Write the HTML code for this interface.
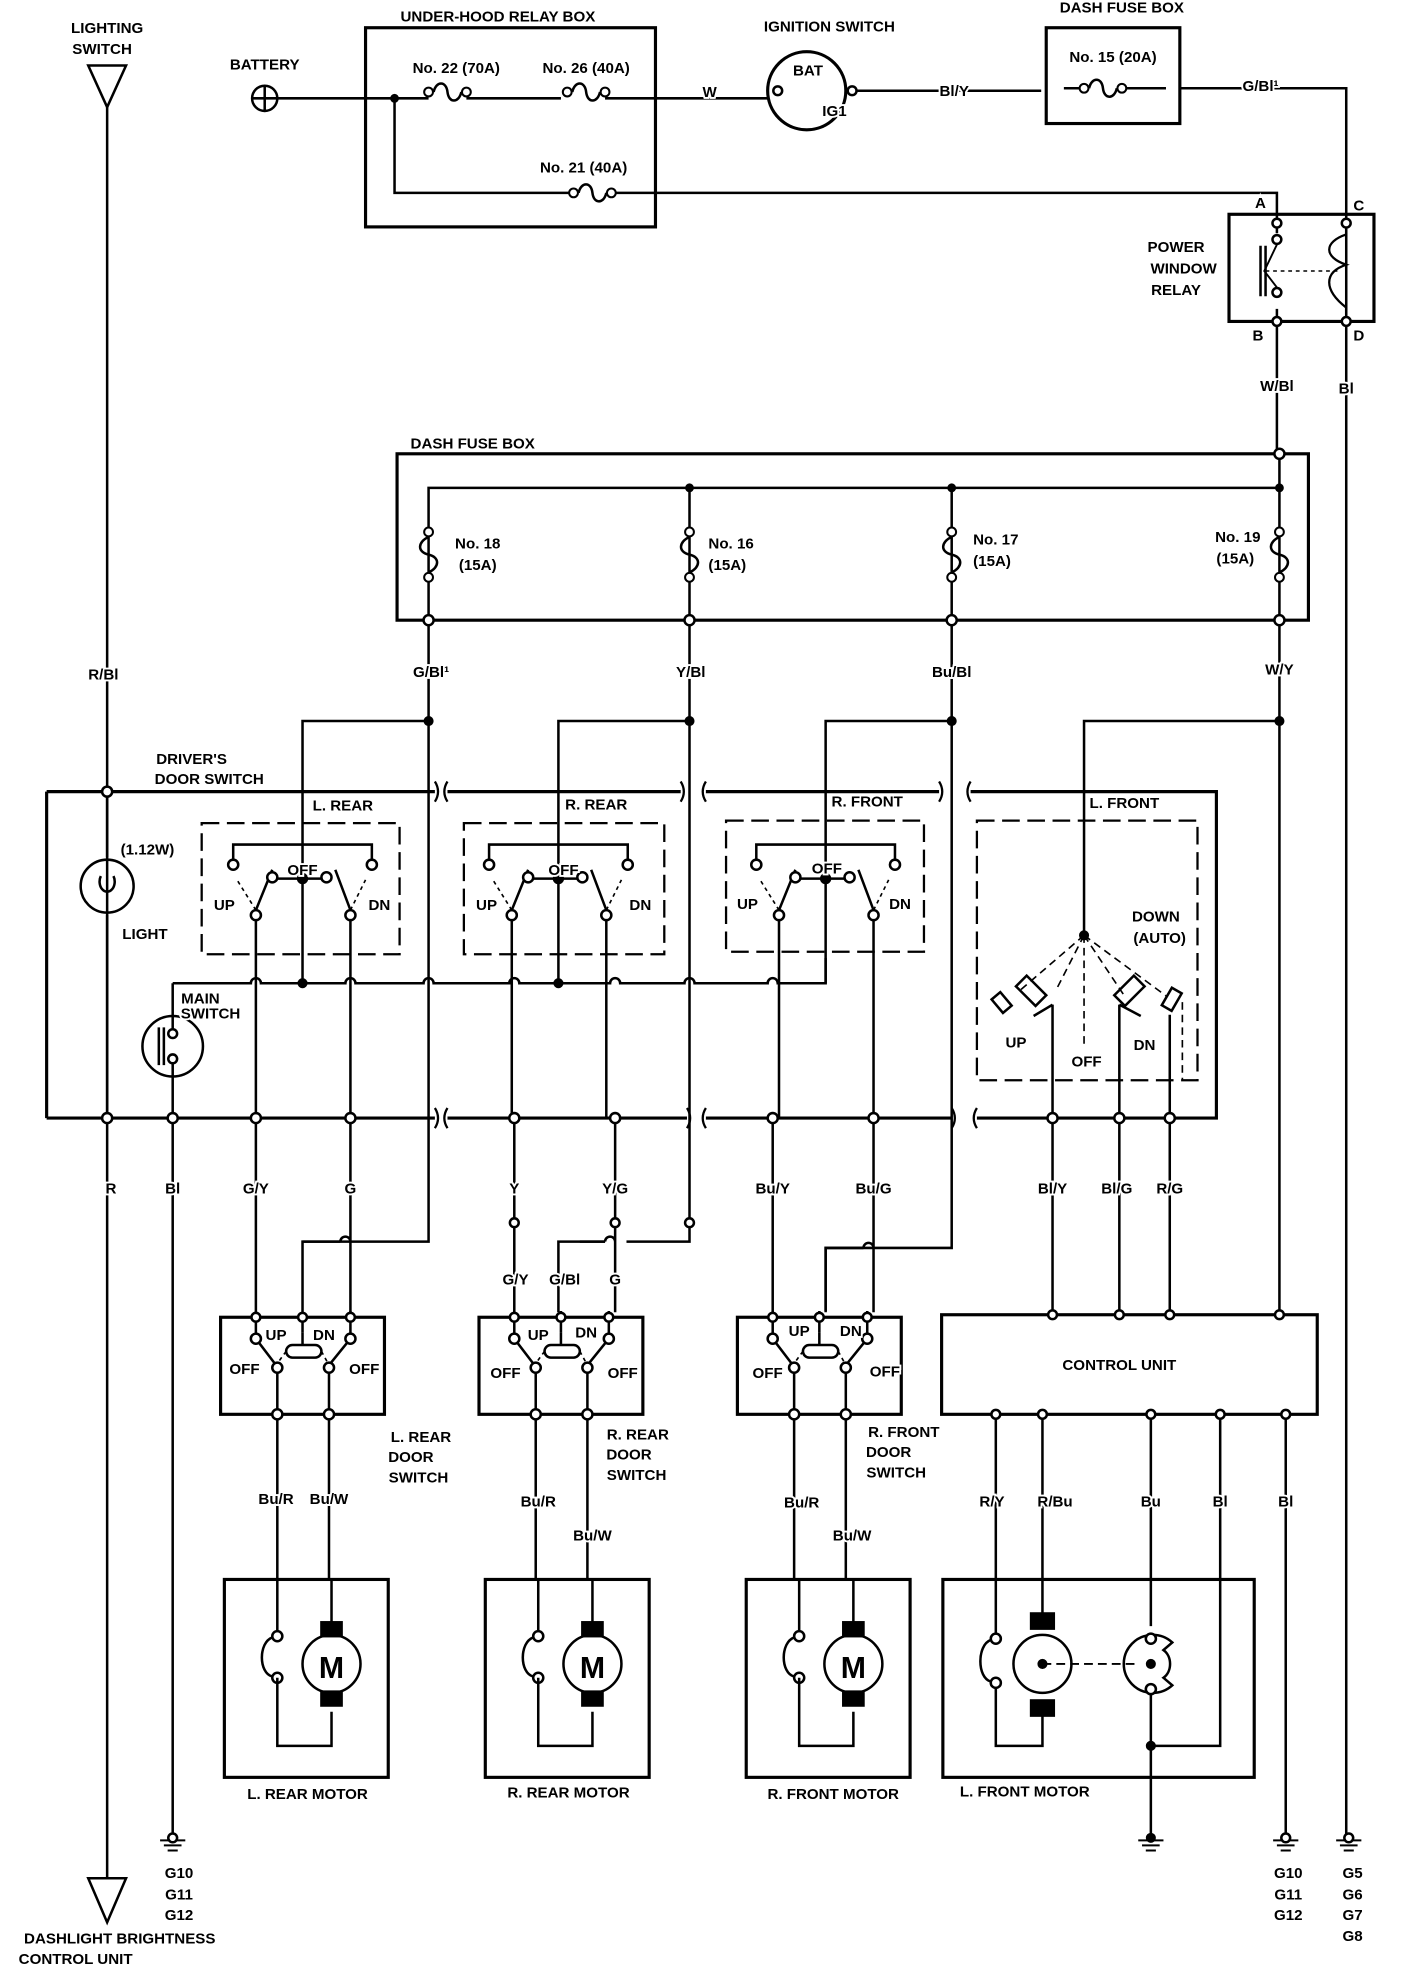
<!DOCTYPE html>
<html><head><meta charset="utf-8"><style>
html,body{margin:0;padding:0;background:#fff;}
svg{display:block;}
text{font-family:"Liberation Sans",sans-serif;font-weight:bold;font-size:12px;fill:#000;stroke:#fff;stroke-width:3px;paint-order:stroke;}
</style></head><body>
<svg width="1408" height="1974" viewBox="0 0 1117 1566" preserveAspectRatio="none" xmlns="http://www.w3.org/2000/svg">
<defs>
<g id="fh"><circle cx="-15" cy="0" r="3.5" fill="#fff" stroke="#000" stroke-width="1.6"/><circle cx="15" cy="0" r="3.5" fill="#fff" stroke="#000" stroke-width="1.6"/><path d="M-11,0 C-9,-9 -1,-9 0,0 C1,9 9,9 11,0" fill="none" stroke="#000" stroke-width="2"/></g>
<g id="fv"><circle cx="0" cy="-18" r="3.5" fill="#fff" stroke="#000" stroke-width="1.6"/><circle cx="0" cy="18" r="3.5" fill="#fff" stroke="#000" stroke-width="1.6"/><path d="M0,-14 C-9,-10 -9,-2 0,0 C9,2 9,10 0,14" fill="none" stroke="#000" stroke-width="2"/></g>
<g id="sw" stroke="#000" fill="none" stroke-width="2">
<path d="M0,0 V69 M-55,55 V42 H55 V55"/>
<path d="M0,69 V152" />
<path d="M-24,69 H19"/>
<circle cx="0" cy="69" r="3.5" fill="#000"/>
<path d="M-37,94 L-24,62 M38,94 L26,62"/>
<path d="M-37,94 L-52,70 M38,94 L50,70" stroke-dasharray="3,3" stroke-width="1.3"/>
<circle cx="-55" cy="58" r="4" fill="#fff"/><circle cx="55" cy="58" r="4" fill="#fff"/>
<circle cx="-24" cy="68" r="4" fill="#fff"/><circle cx="19" cy="68" r="4" fill="#fff"/>
<circle cx="-37" cy="98" r="4" fill="#fff"/><circle cx="38" cy="98" r="4" fill="#fff"/>
<path d="M-37,102 V260 M38,102 V260"/>
</g>
<g id="ds" stroke="#000" fill="none" stroke-width="2">
<rect x="-28" y="0" width="130" height="77" stroke-width="2.5"/>
<path d="M0,-5 V15 M75,-5 V15 M37,-5 V12"/>
<circle cx="0" cy="0" r="3.5" fill="#fff"/><circle cx="37" cy="0" r="3.5" fill="#fff"/><circle cx="75" cy="0" r="3.5" fill="#fff"/>
<rect x="24" y="22" width="28" height="10" rx="5" fill="#fff"/>
<path d="M37,12 V22"/>
<path d="M0,17 L16,38 M75,17 L58,38"/>
<path d="M24,27 L16,38 M52,27 L58,38" stroke-dasharray="3,3" stroke-width="1.3"/>
<circle cx="0" cy="17" r="4" fill="#fff"/><circle cx="75" cy="17" r="4" fill="#fff"/>
<circle cx="17" cy="40" r="4" fill="#fff"/><circle cx="58" cy="40" r="4" fill="#fff"/>
<path d="M17,44 V77 M58,44 V77"/>
<circle cx="17" cy="77" r="4" fill="#fff"/><circle cx="58" cy="77" r="4" fill="#fff"/>
</g>
<g id="mot" stroke="#000" fill="none" stroke-width="2">
<rect x="-42" y="0" width="130" height="157" stroke-width="2.5"/>
<circle cx="0" cy="45" r="4" fill="#fff"/><circle cx="0" cy="78" r="4" fill="#fff"/>
<path d="M-4,46 C-15,50 -15,74 -4,77"/>
<path d="M0,78 V132 H43 V105 M0,41 V0"/>
<circle cx="43" cy="67" r="23"/>
<rect x="35" y="34" width="16" height="11" fill="#000"/><rect x="35" y="89" width="16" height="11" fill="#000"/>
<path d="M43,34 V0"/>
</g>
</defs>

<g stroke="#000" fill="none" stroke-width="2">
<path d="M70,52 H100 L85,85 Z"/>
<path d="M85,85 V1490"/>
<path d="M70,1490 H100 L85,1525 Z"/>
<circle cx="210" cy="78" r="10"/><path d="M200,78 H220 M210,68 V88"/>
<path d="M220,78 H340 M370,78 H445 M480,78 H610"/>
<rect x="290" y="22" width="230" height="158" stroke-width="2.5"/>
<path d="M313,78 V153 H455 M485,153 H1013 V175"/>
<circle cx="313" cy="78" r="2.5" fill="#000"/>
<circle cx="640" cy="72" r="31" stroke-width="2.5"/>
<circle cx="617" cy="72" r="3.5" fill="#fff"/><circle cx="676" cy="72" r="3.5" fill="#fff"/>
<path d="M680,72 H826"/>
<rect x="830" y="22" width="106" height="76" stroke-width="2.5"/>
<path d="M844,70 H860 M890,70 H925 M936,70 H1068 V1460"/>
<rect x="975" y="170" width="115" height="85" stroke-width="2.5"/>
<path d="M1013,175 V185 M1013,245 V360 M1068,175 V186 M1068,244 V256"/>
<circle cx="1013" cy="177" r="3.5" fill="#fff"/><circle cx="1013" cy="255" r="3.5" fill="#fff"/>
<circle cx="1068" cy="177" r="3.5" fill="#fff"/><circle cx="1068" cy="255" r="3.5" fill="#fff"/>
<circle cx="1013" cy="190" r="3.5" fill="#fff"/><circle cx="1013" cy="232" r="3.5" fill="#fff"/>
<path d="M1013,194 L1003,215 L1013,228" stroke-width="1.5"/>
<path d="M1000,195 V235 M1004,195 V235" stroke-width="2"/>
<path d="M1004,215 H1062" stroke-dasharray="3,3" stroke-width="1.2"/>
<path d="M1068,186 C1050,192 1050,204 1068,210 C1050,216 1050,230 1068,244" stroke-width="1.8"/>
<rect x="315" y="360" width="723" height="132" stroke-width="2.5"/>
<path d="M340,492 V387 H1015 M547,387 V492 M755,387 V492 M1015,360 V492"/>
<circle cx="547" cy="387" r="2.5" fill="#000"/><circle cx="755" cy="387" r="2.5" fill="#000"/><circle cx="1015" cy="387" r="2.5" fill="#000"/>
<circle cx="1015" cy="360" r="4" fill="#fff"/>
<circle cx="340" cy="492" r="4" fill="#fff"/><circle cx="547" cy="492" r="4" fill="#fff"/><circle cx="755" cy="492" r="4" fill="#fff"/><circle cx="1015" cy="492" r="4" fill="#fff"/>
<path d="M340,496 V985 H240 V1040"/>
<path d="M547,496 V968"/>
<circle cx="547" cy="970" r="3.5" fill="#fff"/>
<path d="M755,496 V990 H655 V1040"/>
<path d="M1015,496 V1043"/>
<path d="M340,572 H240 V628 M547,572 H443 V628 M755,572 H655 V628 M1015,572 H860 V628"/>
<circle cx="340" cy="572" r="3" fill="#000"/><circle cx="547" cy="572" r="3" fill="#000"/><circle cx="755" cy="572" r="3" fill="#000"/><circle cx="1015" cy="572" r="3" fill="#000"/>
<path d="M37,628 H345 M355,628 H540 M560,628 H745 M770,628 H965 V887 H775 M755,887 H560 M545,887 H355 M345,887 H37 Z" stroke-width="2.5"/>
<path d="M345,620 q5,8 0,16 M355,620 q-5,8 0,16 M540,620 q5,8 0,16 M560,620 q-5,8 0,16 M745,620 q5,8 0,16 M770,620 q-5,8 0,16" stroke-width="1.8"/>
<path d="M345,879 q5,8 0,16 M355,879 q-5,8 0,16 M545,879 q5,8 0,16 M560,879 q-5,8 0,16 M755,879 q5,8 0,16 M775,879 q-5,8 0,16" stroke-width="1.8"/>
<path d="M37,628 V887" stroke-width="2.5"/>
<g stroke-dasharray="14,6" stroke-width="1.8">
<rect x="160" y="653" width="157" height="104"/>
<rect x="368" y="653" width="159" height="104"/>
<rect x="576" y="651" width="157" height="104"/>
<rect x="775" y="651" width="175" height="206"/>
</g>
<use href="#sw" x="240" y="628"/><use href="#sw" x="443" y="628"/><use href="#sw" x="655" y="628"/>
<path d="M137,780 H199 a4,4 0 0 1 8,0 H274 a4,4 0 0 1 8,0 H336 a4,4 0 0 1 8,0 H404 a4,4 0 0 1 8,0 H484 a4,4 0 0 1 8,0 H543 a4,4 0 0 1 8,0 H609 a4,4 0 0 1 8,0 H655 V760"/>
<circle cx="240" cy="780" r="3" fill="#000"/><circle cx="443" cy="780" r="3" fill="#000"/>
<circle cx="85" cy="628" r="4" fill="#fff"/>
<path d="M85,632 V680"/>
<circle cx="85" cy="703" r="21"/>
<path d="M80,695 a6,8 0 1 0 10,0"/>
<path d="M85,726 V887"/>
<circle cx="137" cy="830" r="24"/>
<path d="M126,815 V845 M130,815 V845"/>
<circle cx="137" cy="820" r="3.5" fill="#fff"/><circle cx="137" cy="840" r="3.5" fill="#fff"/>
<path d="M137,780 V816 M137,844 V1460"/>
<path d="M860,628 V740"/>
<circle cx="860" cy="742" r="3" fill="#000"/>
<g stroke-dasharray="6,4" stroke-width="1.3">
<path d="M860,742 L810,785 M860,742 L838,785 M860,742 L860,830 M860,742 L892,790 M860,742 L925,790"/>
</g>
<rect x="812" y="775" width="12" height="22" transform="rotate(-45 818 786)"/>
<rect x="890" y="775" width="12" height="22" transform="rotate(45 896 786)"/>
<rect x="925" y="785" width="9" height="16" transform="rotate(30 930 793)"/>
<rect x="790" y="788" width="9" height="14" transform="rotate(-40 795 795)"/>
<path d="M835,797 V887 M888,797 V887 M928,805 V887 M820,806 L835,797 M905,806 L888,797"/>
<path d="M938,795 V857" stroke-dasharray="6,4" stroke-width="1.3"/>
<g fill="#fff">
<circle cx="85" cy="887" r="4"/><circle cx="137" cy="887" r="4"/><circle cx="203" cy="887" r="4"/><circle cx="278" cy="887" r="4"/>
<circle cx="408" cy="887" r="4"/><circle cx="488" cy="887" r="4"/><circle cx="613" cy="887" r="4"/><circle cx="693" cy="887" r="4"/>
<circle cx="835" cy="887" r="4"/><circle cx="888" cy="887" r="4"/><circle cx="928" cy="887" r="4"/>
</g>
<path d="M203,891 V1041 M278,891 V985 a4,4 0 0 0 -8,0 M270,985 H240 M278,985 V1041"/>
<path d="M408,891 V1041 M488,891 V985 a4,4 0 0 0 -8,0 M480,985 H443 V1041 M488,985 V1041"/>
<path d="M613,891 V1041 M693,891 V990 a4,4 0 0 0 -8,0 M685,990 H655 V1041 M693,990 V1041"/>
<path d="M835,891 V1043 M888,891 V1043 M928,891 V1043"/>
<circle cx="408" cy="970" r="3.5" fill="#fff"/><circle cx="488" cy="970" r="3.5" fill="#fff"/>
<path d="M547,973 V985 H497 M480,985 H460"/>
<use href="#ds" x="203" y="1045"/><use href="#ds" x="408" y="1045"/><use href="#ds" x="613" y="1045"/>
<path d="M220,1126 V1253 M261,1126 V1253 M425,1126 V1253 M466,1126 V1253 M630,1126 V1253 M671,1126 V1253"/>
<use href="#mot" x="220" y="1253"/><use href="#mot" x="427" y="1253"/><use href="#mot" x="634" y="1253"/>
<rect x="747" y="1043" width="298" height="79" stroke-width="2.5"/>
<g fill="#fff"><circle cx="835" cy="1043" r="3.5"/><circle cx="888" cy="1043" r="3.5"/><circle cx="928" cy="1043" r="3.5"/><circle cx="1015" cy="1043" r="3.5"/>
<circle cx="790" cy="1122" r="3.5"/><circle cx="827" cy="1122" r="3.5"/><circle cx="913" cy="1122" r="3.5"/><circle cx="968" cy="1122" r="3.5"/><circle cx="1020" cy="1122" r="3.5"/></g>
<path d="M790,1126 V1297 M827,1126 V1280 M913,1126 V1290 M968,1126 V1385 H913 M1020,1126 V1460"/>
<rect x="748" y="1253" width="247" height="157" stroke-width="2.5"/>
<circle cx="790" cy="1300" r="4" fill="#fff"/><circle cx="790" cy="1335" r="4" fill="#fff"/>
<path d="M786,1301 C775,1305 775,1331 786,1334 M790,1339 V1385 H827 V1360"/>
<circle cx="827" cy="1320" r="23"/>
<rect x="818" y="1280" width="18" height="12" fill="#000"/><rect x="818" y="1349" width="18" height="12" fill="#000"/>
<path d="M827,1320 H900" stroke-dasharray="7,4" stroke-width="1.5"/>
<path d="M930,1303 A23,23 0 1 0 930,1337 L923,1331 C930,1326 930,1314 923,1309 Z"/>
<circle cx="913" cy="1300" r="4" fill="#fff"/><circle cx="913" cy="1340" r="4" fill="#fff"/>
<path d="M913,1344 V1460"/>
<circle cx="913" cy="1385" r="3" fill="#000"/>
<circle cx="913" cy="1320" r="3" fill="#000"/><circle cx="827" cy="1320" r="3" fill="#000"/>
<g stroke-width="1.6">
<path d="M127,1460 H147 M130,1464 H144 M133,1468 H141"/>
<path d="M903,1460 H923 M906,1464 H920 M909,1468 H917"/>
<path d="M1010,1460 H1030 M1013,1464 H1027 M1016,1468 H1024"/>
<path d="M1060,1460 H1080 M1063,1464 H1077 M1066,1468 H1074"/>
</g>
<g fill="#fff"><circle cx="137" cy="1458" r="3.5"/><circle cx="1020" cy="1458" r="3.5"/><circle cx="1070" cy="1458" r="3.5"/><circle cx="913" cy="1458" r="3" fill="#000"/></g>
</g>
<use href="#fh" x="355" y="73"/><use href="#fh" x="465" y="73"/><use href="#fh" x="470" y="153"/><use href="#fh" x="875" y="70"/>
<use href="#fv" x="340" y="440"/><use href="#fv" x="547" y="440"/><use href="#fv" x="755" y="440"/><use href="#fv" x="1015" y="440"/>
<g text-anchor="middle">
<text x="85" y="26">LIGHTING</text><text x="81" y="43">SWITCH</text>
<text x="210" y="55">BATTERY</text>
<text x="395" y="17">UNDER-HOOD RELAY BOX</text>
<text x="658" y="25">IGNITION SWITCH</text>
<text x="890" y="10">DASH FUSE BOX</text>
<text x="362" y="58">No. 22 (70A)</text><text x="465" y="58">No. 26 (40A)</text><text x="463" y="137">No. 21 (40A)</text>
<text x="563" y="77">W</text><text x="641" y="60">BAT</text><text x="662" y="92">IG1</text>
<text x="757" y="76">Bl/Y</text><text x="883" y="49">No. 15 (20A)</text><text x="1000" y="72">G/Bl¹</text>
<text x="1000" y="165">A</text><text x="1078" y="167">C</text><text x="998" y="270">B</text><text x="1078" y="270">D</text>
<text x="933" y="200">POWER</text><text x="939" y="217">WINDOW</text><text x="933" y="234">RELAY</text>
<text x="1013" y="310">W/Bl</text><text x="1068" y="312">Bl</text>
<text x="375" y="356">DASH FUSE BOX</text>
<text x="379" y="435">No. 18</text><text x="379" y="452">(15A)</text>
<text x="580" y="435">No. 16</text><text x="577" y="452">(15A)</text>
<text x="790" y="432">No. 17</text><text x="787" y="449">(15A)</text>
<text x="982" y="430">No. 19</text><text x="980" y="447">(15A)</text>
<text x="82" y="539">R/Bl</text><text x="342" y="537">G/Bl¹</text><text x="548" y="537">Y/Bl</text><text x="755" y="537">Bu/Bl</text><text x="1015" y="535">W/Y</text>
<text x="152" y="606">DRIVER'S</text><text x="166" y="622">DOOR SWITCH</text>
<text x="272" y="643">L. REAR</text><text x="473" y="642">R. REAR</text><text x="688" y="640">R. FRONT</text><text x="892" y="641">L. FRONT</text>
<text x="240" y="694">OFF</text><text x="447" y="694">OFF</text><text x="656" y="693">OFF</text>
<text x="178" y="722">UP</text><text x="301" y="722">DN</text><text x="386" y="722">UP</text><text x="508" y="722">DN</text><text x="593" y="721">UP</text><text x="714" y="721">DN</text>
<text x="117" y="678">(1.12W)</text><text x="115" y="745">LIGHT</text>
<text x="159" y="796">MAIN</text><text x="167" y="808">SWITCH</text>
<text x="917" y="731">DOWN</text><text x="920" y="748">(AUTO)</text>
<text x="806" y="831">UP</text><text x="862" y="846">OFF</text><text x="908" y="833">DN</text>
<text x="88" y="947">R</text><text x="137" y="947">Bl</text><text x="203" y="947">G/Y</text><text x="278" y="947">G</text>
<text x="408" y="947">Y</text><text x="488" y="947">Y/G</text><text x="613" y="947">Bu/Y</text><text x="693" y="947">Bu/G</text>
<text x="835" y="947">Bl/Y</text><text x="886" y="947">Bl/G</text><text x="928" y="947">R/G</text>
<text x="409" y="1019">G/Y</text><text x="448" y="1019">G/Bl</text><text x="488" y="1019">G</text>
<text x="219" y="1063">UP</text><text x="257" y="1063">DN</text><text x="194" y="1090">OFF</text><text x="289" y="1090">OFF</text>
<text x="427" y="1063">UP</text><text x="465" y="1061">DN</text><text x="401" y="1093">OFF</text><text x="494" y="1093">OFF</text>
<text x="634" y="1060">UP</text><text x="675" y="1060">DN</text><text x="609" y="1093">OFF</text><text x="702" y="1092">OFF</text>
<text x="888" y="1087">CONTROL UNIT</text>
<text x="334" y="1144">L. REAR</text><text x="326" y="1160">DOOR</text><text x="332" y="1176">SWITCH</text>
<text x="506" y="1142">R. REAR</text><text x="499" y="1158">DOOR</text><text x="505" y="1174">SWITCH</text>
<text x="717" y="1140">R. FRONT</text><text x="705" y="1156">DOOR</text><text x="711" y="1172">SWITCH</text>
<text x="219" y="1193">Bu/R</text><text x="261" y="1193">Bu/W</text><text x="427" y="1195">Bu/R</text><text x="470" y="1222">Bu/W</text>
<text x="636" y="1196">Bu/R</text><text x="676" y="1222">Bu/W</text>
<text x="787" y="1195">R/Y</text><text x="837" y="1195">R/Bu</text><text x="913" y="1195">Bu</text><text x="968" y="1195">Bl</text><text x="1020" y="1195">Bl</text>
<text x="244" y="1427">L. REAR MOTOR</text><text x="451" y="1426">R. REAR MOTOR</text><text x="661" y="1427">R. FRONT MOTOR</text><text x="813" y="1425">L. FRONT MOTOR</text>
<text x="142" y="1490">G10</text><text x="142" y="1507">G11</text><text x="142" y="1523">G12</text>
<text x="1022" y="1490">G10</text><text x="1022" y="1507">G11</text><text x="1022" y="1523">G12</text>
<text x="1073" y="1490">G5</text><text x="1073" y="1507">G6</text><text x="1073" y="1523">G7</text><text x="1073" y="1540">G8</text>
<text x="95" y="1542">DASHLIGHT BRIGHTNESS</text><text x="60" y="1558">CONTROL UNIT</text>
<text x="263" y="1331" style="font-size:24px">M</text>
<text x="470" y="1331" style="font-size:24px">M</text>
<text x="677" y="1331" style="font-size:24px">M</text>
</g>
</svg>
</body></html>
